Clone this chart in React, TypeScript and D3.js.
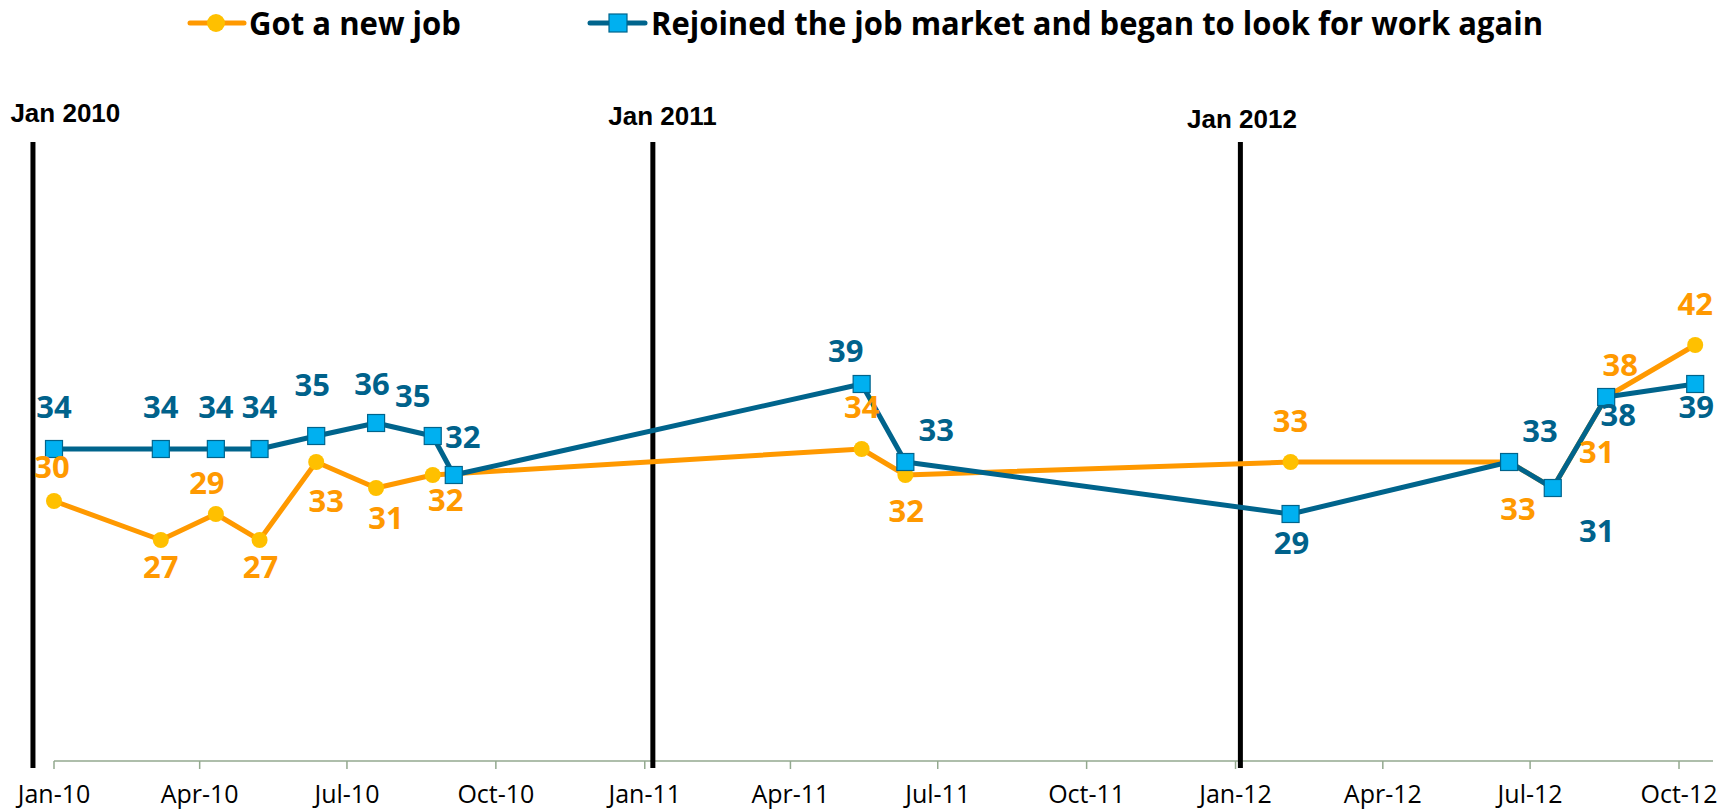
import React from "react";
import * as d3 from "d3";

// ---------- data ----------
const newJobDates = [
  "2010-01-01", "2010-03-08", "2010-04-11", "2010-05-08", "2010-06-12", "2010-07-19", "2010-08-23",
  "2011-05-15", "2011-06-11", "2012-02-04", "2012-06-18", "2012-07-15", "2012-08-17", "2012-10-11",
];
const newJobValues = [30, 27, 29, 27, 33, 31, 32, 34, 32, 33, 33, 31, 38, 42];

const rejoinedDates = [
  "2010-01-01", "2010-03-08", "2010-04-11", "2010-05-08", "2010-06-12", "2010-07-19", "2010-08-23", "2010-09-05",
  "2011-05-15", "2011-06-11", "2012-02-04", "2012-06-18", "2012-07-15", "2012-08-17", "2012-10-11",
];
const rejoinedValues = [34, 34, 34, 34, 35, 36, 35, 32, 39, 33, 29, 33, 31, 38, 39];

const seriesNames = ["Got a new job", "Rejoined the job market and began to look for work again"];

const yearMarkerDates = ["2009-12-19", "2011-01-06", "2012-01-04"];
const yearMarkerLabelDates = ["2010-01-08", "2011-01-12", "2012-01-05"];
const yearMarkerLabels = ["Jan 2010", "Jan 2011", "Jan 2012"];

const xDomain = ["2010-01-01", "2012-10-22"];
const yDomain = [10, 50];

// ---------- layout / style ----------
const W = 1734;
const H = 811;
const ORANGE_LINE = "#FF9900";
const ORANGE_FILL = "#FFC000";
const BLUE_LINE = "#00648C";
const BLUE_FILL = "#00B0F0";
const BLUE_TEXT = "#00628B";
const AXIS_COLOR = "#93A98F";

// label offsets (dx, dy of text centre from the point)
const newJobLabelOffsets: [number, number][] = [
  [-2, -34], [0, 27], [-9, -31], [1, 27], [10, 39], [10, 30], [13, 25],
  [0, -42], [1, 36], [0, -41], [9, 47], [44, -36], [14, -32], [0, -41],
];
const rejoinedLabelOffsets: [number, number][] = [
  [0, -42], [0, -42], [0, -42], [0, -42], [-4, -51], [-4, -39], [-20, -40], [9, -38],
  [-16, -33], [31, -32], [1, 29], [31, -31], [44, 43], [12, 18], [1, 23],
];
const yearLabelBaselines = [122, 125, 128];

const parse = (s: string) => d3.timeParse("%Y-%m-%d")(s) as Date;

export default function App() {
  const x = d3.scaleTime().domain(xDomain.map(parse)).range([54, 1713]);
  const y = d3.scaleLinear().domain(yDomain).range([761, 241]);

  const newJob = newJobDates.map((d, i) => ({ date: parse(d), value: newJobValues[i] }));
  const rejoined = rejoinedDates.map((d, i) => ({ date: parse(d), value: rejoinedValues[i] }));

  const line = d3
    .line<{ date: Date; value: number }>()
    .x((d) => x(d.date))
    .y((d) => y(d.value));

  const ticks = d3.timeMonth.every(3)!.range(parse("2010-01-01"), parse("2012-10-02"));
  const fmt = d3.timeFormat("%b-%y");
  const axisY = y(yDomain[0]);

  const labelFont = "'Open Sans', 'Noto Sans', sans-serif";
  const labelSize = 31;

  return (
    <svg
      width={W}
      height={H}
      viewBox={`0 0 ${W} ${H}`}
      style={{ position: "absolute", left: 0, top: 0, background: "#fff" }}
    >
      <rect x={0} y={0} width={W} height={H} fill="#fff" />

      {/* legend */}
      <g>
        <line x1={190} x2={244} y1={23} y2={23} stroke={ORANGE_LINE} strokeWidth={5} strokeLinecap="round" />
        <circle cx={216} cy={23} r={9} fill={ORANGE_FILL} />
        <text
          x={249}
          y={35}
          fontFamily={labelFont}
          fontWeight={700}
          fontSize={32}
          fill="#000"
          textLength={212}
          lengthAdjust="spacingAndGlyphs"
        >
          {seriesNames[0]}
        </text>
        <line x1={590} x2={645} y1={23} y2={23} stroke={BLUE_LINE} strokeWidth={5} strokeLinecap="round" />
        <rect x={609} y={14} width={18} height={18} fill={BLUE_FILL} stroke={BLUE_LINE} strokeWidth={1.2} />
        <text
          x={651}
          y={35}
          fontFamily={labelFont}
          fontWeight={700}
          fontSize={32}
          fill="#000"
          textLength={892}
          lengthAdjust="spacingAndGlyphs"
        >
          {seriesNames[1]}
        </text>
      </g>

      {/* x axis */}
      <g>
        <line x1={x.range()[0]} x2={x.range()[1]} y1={axisY} y2={axisY} stroke={AXIS_COLOR} strokeWidth={1.5} />
        {ticks.map((t, i) => (
          <g key={i}>
            <line x1={x(t)} x2={x(t)} y1={axisY} y2={axisY + 8} stroke={AXIS_COLOR} strokeWidth={1.5} />
            <text
              x={x(t)}
              y={803}
              textAnchor="middle"
              fontFamily={labelFont}
              fontSize={25}
              fill="#000"
            >
              {fmt(t)}
            </text>
          </g>
        ))}
      </g>

      {/* year marker lines */}
      {yearMarkerDates.map((d, i) => (
        <g key={d}>
          <line
            x1={x(parse(d))}
            x2={x(parse(d))}
            y1={142}
            y2={axisY + 7}
            stroke="#000"
            strokeWidth={5}
          />
          <text
            x={x(parse(yearMarkerLabelDates[i]))}
            y={yearLabelBaselines[i]}
            textAnchor="middle"
            fontFamily="'Liberation Sans', Arial, sans-serif"
            fontWeight={700}
            fontSize={26}
            fill="#000"
          >
            {yearMarkerLabels[i]}
          </text>
        </g>
      ))}

      {/* orange series */}
      <path d={line(newJob) || ""} fill="none" stroke={ORANGE_LINE} strokeWidth={5} strokeLinejoin="round" />
      {newJob.map((d, i) => (
        <circle key={i} cx={x(d.date)} cy={y(d.value)} r={8} fill={ORANGE_FILL} />
      ))}

      {/* blue series */}
      <path d={line(rejoined) || ""} fill="none" stroke={BLUE_LINE} strokeWidth={5} strokeLinejoin="round" />
      {rejoined.map((d, i) => (
        <rect
          key={i}
          x={x(d.date) - 8.5}
          y={y(d.value) - 8.5}
          width={17}
          height={17}
          fill={BLUE_FILL}
          stroke={BLUE_LINE}
          strokeWidth={1.2}
        />
      ))}

      {/* labels */}
      {newJob.map((d, i) => (
        <text
          key={"o" + i}
          x={x(d.date) + newJobLabelOffsets[i][0]}
          y={y(d.value) + newJobLabelOffsets[i][1] + labelSize * 0.357}
          textAnchor="middle"
          fontFamily={labelFont}
          fontWeight={700}
          fontSize={labelSize}
          fill={ORANGE_LINE}
        >
          {d.value}
        </text>
      ))}
      {rejoined.map((d, i) => (
        <text
          key={"b" + i}
          x={x(d.date) + rejoinedLabelOffsets[i][0]}
          y={y(d.value) + rejoinedLabelOffsets[i][1] + labelSize * 0.357}
          textAnchor="middle"
          fontFamily={labelFont}
          fontWeight={700}
          fontSize={labelSize}
          fill={BLUE_TEXT}
        >
          {d.value}
        </text>
      ))}
    </svg>
  );
}
